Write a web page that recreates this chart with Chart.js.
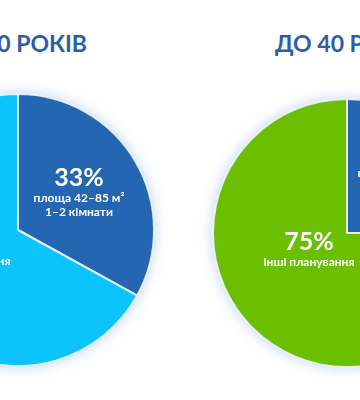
<!DOCTYPE html>
<html>
<head>
<meta charset="utf-8">
<script src="https://cdn.jsdelivr.net/npm/chart.js@4.4.0/dist/chart.umd.min.js"></script>
<style>
  html, body { margin: 0; padding: 0; background: #fff; }
  body { width: 360px; height: 400px; overflow: hidden; position: relative; }
  canvas { position: absolute; }
  .title { position: absolute; top: 32px; font: bold 23px Lato, sans-serif; color: #2b5ea9; line-height: 23px; white-space: nowrap; }
</style>
</head>
<body>
<div class="title" id="t1" style="right:273px;text-align:right;"></div>
<div class="title" id="t2" style="left:275px;"></div>
<canvas id="pieOld" width="320" height="320" style="left:-142px;top:70px;"></canvas>
<canvas id="pieYoung" width="320" height="320" style="left:187px;top:73px;"></canvas>
<script>
// data
var titles = ['ВІД 40 РОКІВ', 'ДО 40 РОКІВ'];
var oldValues = [33, 67];
var oldLabels = [['площа 42–85 м²', '1–2 кімнати'], ['інші планування']];
var youngValues = [25, 75];
var youngLabels = [['площа 42–85 м²', '1–2 кімнати'], ['інші планування']];

var darkBlue = '#2566b3';
var lightBlue = '#0bc4fb';
var green = '#6cbf00';

document.getElementById('t1').textContent = titles[0];
document.getElementById('t2').textContent = titles[1];

// soft glow under the pie
var glowPlugin = {
    id: 'glow',
    beforeDatasetsDraw: function(chart) {
        var arc = chart.getDatasetMeta(0).data[0];
        var ctx = chart.ctx;
        ctx.save();
        ctx.beginPath();
        ctx.arc(arc.x, arc.y, arc.outerRadius, 0, Math.PI * 2);
        ctx.shadowColor = 'rgba(60, 110, 210, 0.35)';
        ctx.shadowBlur = 14;
        ctx.fillStyle = '#ffffff';
        ctx.fill();
        ctx.restore();
    }
};

// percentage + caption inside each slice
var sliceLabels = {
    id: 'sliceLabels',
    afterDatasetsDraw: function(chart, args, opts) {
        var ctx = chart.ctx;
        var ds = chart.data.datasets[0];
        chart.getDatasetMeta(0).data.forEach(function(arc, i) {
            var x = arc.x + opts.offsets[i][0];
            var y = arc.y + opts.offsets[i][1];
            ctx.save();
            ctx.fillStyle = '#ffffff';
            ctx.textAlign = 'center';
            ctx.textBaseline = 'middle';
            ctx.font = 'bold 25px Lato, sans-serif';
            ctx.fillText(ds.data[i] + '%', x, y);
            ctx.font = 'bold 12px Lato, sans-serif';
            opts.captions[i].forEach(function(line, k) {
                ctx.fillText(line, x, y + 20 + k * 14);
            });
            ctx.restore();
        });
    }
};

function makePie(id, values, colors, captions, radius, offsets) {
    return new Chart(document.getElementById(id), {
        type: 'pie',
        data: {
            labels: captions.map(function(c) { return c[0]; }),
            datasets: [{
                data: values,
                backgroundColor: colors,
                borderColor: 'rgba(235, 245, 255, 0.9)',
                borderWidth: 2
            }]
        },
        options: {
            responsive: false,
            animation: false,
            radius: radius,
            plugins: {
                legend: { display: false },
                tooltip: { enabled: false },
                sliceLabels: { captions: captions, offsets: offsets }
            }
        },
        plugins: [glowPlugin, sliceLabels]
    });
}

makePie('pieOld', oldValues, [darkBlue, lightBlue], oldLabels, 136, [[61, -52], [-53, 11]]);
makePie('pieYoung', youngValues, [darkBlue, green], youngLabels, 134, [[56, -80], [-38, 9]]);
</script>
</body>
</html>
